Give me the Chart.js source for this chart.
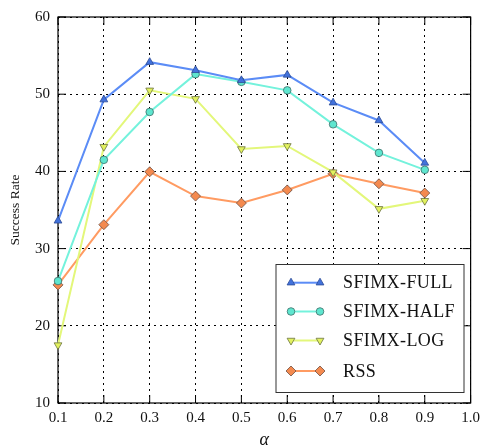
<!DOCTYPE html>
<html>
<head>
<meta charset="utf-8">
<script src="https://cdn.jsdelivr.net/npm/chart.js@4/dist/chart.umd.min.js"></script>
<style>
  html, body { margin: 0; padding: 0; background: #fff; }
  #c { display: block; }
</style>
</head>
<body>
<canvas id="c" width="486" height="448"></canvas>
<script>
const alphaLabels = ["0.1", "0.2", "0.3", "0.4", "0.5", "0.6", "0.7", "0.8", "0.9", "1.0"];
const fullRate = [33.6, 49.3, 54.15, 53.1, 51.8, 52.5, 48.9, 46.6, 41.1];
const halfRate = [25.8, 41.5, 47.7, 52.6, 51.6, 50.5, 46.1, 42.4, 40.2];
const logRate = [17.5, 43.2, 50.5, 49.4, 42.9, 43.3, 39.9, 35.15, 36.2];
const rssRate = [25.3, 33.1, 39.95, 36.8, 35.9, 37.6, 39.7, 38.4, 37.2];
const yTicks = [10, 20, 30, 40, 50, 60];

const SERIF = "'Liberation Serif', serif";

function series(label, data, line, fill, edge, style, rot, r) {
  return {
    label,
    data,
    borderColor: line,
    borderWidth: 2,
    backgroundColor: fill,
    pointBackgroundColor: fill,
    pointBorderColor: edge,
    pointBorderWidth: 0.8,
    pointStyle: style,
    pointRotation: rot,
    pointRadius: r,
    pointHoverRadius: r,
    tension: 0,
    fill: false,
  };
}

const datasets = [
  series("SFIMX-FULL", fullRate, "#5b8cf6", "#4272dc", "#2b4a96", "triangle", 0, 4.5),
  series("SFIMX-HALF", halfRate, "#74f2dc", "#5ee6cf", "#3c6d68", "circle", 0, 3.8),
  series("SFIMX-LOG", logRate, "#e3f77a", "#e2f25e", "#6c7340", "triangle", 180, 4.5),
  series("RSS", rssRate, "#ff9b62", "#f48a4f", "#6e4f42", "rectRot", 0, 5),
];

// frame with inward ticks, like the original plot box
const framePlugin = {
  id: "frame",
  beforeDatasetsDraw(chart) {
    const { ctx, chartArea: a, scales } = chart;
    ctx.save();
    ctx.strokeStyle = "#000";
    ctx.lineWidth = 1.2;
    ctx.setLineDash([]);
    ctx.strokeRect(a.left, a.top, a.right - a.left, a.bottom - a.top);
    ctx.lineWidth = 1;
    const tl = 8;
    alphaLabels.forEach((_, i) => {
      const x = scales.x.getPixelForValue(i);
      ctx.beginPath();
      ctx.moveTo(x, a.bottom);
      ctx.lineTo(x, a.bottom - tl);
      ctx.moveTo(x, a.top);
      ctx.lineTo(x, a.top + tl);
      ctx.stroke();
    });
    yTicks.forEach((v) => {
      const y = scales.y.getPixelForValue(v);
      ctx.beginPath();
      ctx.moveTo(a.left, y);
      ctx.lineTo(a.left + tl, y);
      ctx.moveTo(a.right, y);
      ctx.lineTo(a.right - tl, y);
      ctx.stroke();
    });
    ctx.restore();
  },
};

// legend box inside the plot, lower right
const legendPlugin = {
  id: "boxLegend",
  afterDraw(chart) {
    const { ctx } = chart;
    const box = { x: 276, y: 264.5, w: 188, h: 128 };
    ctx.save();
    ctx.fillStyle = "#fff";
    ctx.fillRect(box.x, box.y, box.w, box.h);
    ctx.strokeStyle = "#333";
    ctx.lineWidth = 1;
    ctx.strokeRect(box.x, box.y, box.w, box.h);
    const rows = [282.7, 311.5, 340.5, 371];
    ctx.font = "18px " + SERIF;
    ctx.textBaseline = "middle";
    if ("letterSpacing" in ctx) ctx.letterSpacing = "0.4px";
    chart.data.datasets.forEach((ds, i) => {
      const y = rows[i];
      ctx.strokeStyle = ds.borderColor;
      ctx.lineWidth = 2;
      ctx.beginPath();
      ctx.moveTo(291, y);
      ctx.lineTo(320, y);
      ctx.stroke();
      [291, 320].forEach((x) => {
        ctx.fillStyle = ds.pointBackgroundColor;
        ctx.strokeStyle = ds.pointBorderColor;
        ctx.lineWidth = ds.pointBorderWidth;
        Chart.helpers.drawPoint(ctx, { pointStyle: ds.pointStyle, rotation: ds.pointRotation, radius: ds.pointRadius, borderWidth: ds.pointBorderWidth }, x, y);
      });
      ctx.fillStyle = "#111";
      ctx.fillText(ds.label, 343, y + 1);
    });
    ctx.restore();
  },
};

new Chart(document.getElementById("c"), {
  type: "line",
  data: { labels: alphaLabels, datasets },
  plugins: [framePlugin, legendPlugin],
  options: {
    responsive: false,
    animation: false,
    layout: { padding: { top: 16, right: 10, left: 0, bottom: 0 } },
    plugins: { legend: { display: false }, tooltip: { enabled: false } },
    scales: {
      x: {
        type: "category",
        offset: false,
        grid: { color: "#000", lineWidth: 1, drawTicks: false },
        border: { display: false, dash: [2, 4] },
        ticks: { color: "#111", font: { family: SERIF, size: 15 }, padding: 6, maxRotation: 0, autoSkip: false },
        title: { display: true, text: "α", color: "#111", font: { family: SERIF, size: 18, style: "italic" }, padding: { top: 9, bottom: -3 } },
        afterFit(s) { s.height = 45; },
      },
      y: {
        min: 10,
        max: 60,
        grid: { color: "#000", lineWidth: 1, drawTicks: false },
        border: { display: false, dash: [2, 4] },
        ticks: { stepSize: 10, color: "#111", font: { family: SERIF, size: 15 }, padding: 8 },
        title: { display: true, text: "Success Rate", color: "#111", font: { family: SERIF, size: 13.5 }, padding: { top: 7, bottom: 0 } },
        afterFit(s) { s.width = 58; },
      },
    },
  },
});
</script>
</body>
</html>
